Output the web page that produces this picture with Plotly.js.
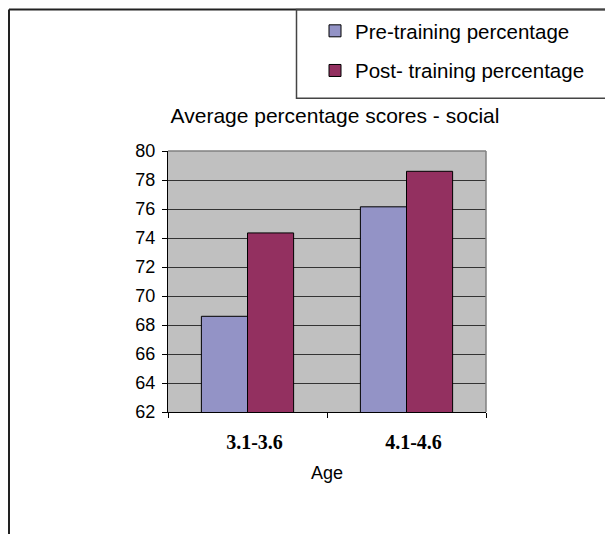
<!DOCTYPE html>
<html>
<head>
<meta charset="utf-8">
<script src="https://cdn.plot.ly/plotly-3.0.1.min.js"></script>
<style>html,body{margin:0;padding:0;background:#fff;}#chart{width:605px;height:534px;}</style>
</head>
<body>
<div id="chart"></div>
<script>
const categories = ["3.1-3.6", "4.1-4.6"];
const preTraining = [68.6, 76.15];
const postTraining = [74.35, 78.6];
const seriesNames = ["Pre-training percentage", "Post- training percentage"];
const yTicks = [62, 64, 66, 68, 70, 72, 74, 76, 78, 80];

const L = 168, R = 486, T = 150, B = 412;
const px = v => (v - L) / (R - L);
const py = v => (B - v) / (B - T);

const traces = [
  {type: "bar", x: categories, y: preTraining, name: seriesNames[0], legendgroup: "a",
   marker: {color: "#9393c6", line: {color: "#000", width: 1}}},
  {type: "bar", x: categories, y: postTraining, name: seriesNames[1], legendgroup: "b",
   marker: {color: "#933060", line: {color: "#000", width: 1}}}
];

const layout = {
  width: 605, height: 534,
  margin: {l: L, r: 605 - R, t: T, b: 534 - B},
  paper_bgcolor: "#ffffff",
  plot_bgcolor: "#c0c0c0",
  barmode: "group",
  bargap: 0.42,
  bargroupgap: 0,
  font: {family: "Liberation Sans, Arial, sans-serif", color: "#000"},
  title: {text: "Average percentage scores - social", font: {size: 21, color: "#000"},
          x: 335 / 605, xref: "container", xanchor: "center", y: 1 - 116 / 534, yref: "container", yanchor: "middle"},
  xaxis: {type: "category", tickson: "boundaries", ticks: "outside", ticklen: 5, tickcolor: "#000",
          showline: true, linecolor: "#000", linewidth: 1, showgrid: false, ticklabelstandoff: 12, ticklabelshift: 7,
          tickfont: {family: "Liberation Serif, Times New Roman, serif", size: 20, color: "#000", weight: "bold"},
          title: {text: "Age", font: {size: 18, color: "#000"}, standoff: 14}},
  yaxis: {range: [62, 80], tickvals: yTicks, ticks: "outside", ticklen: 5, tickcolor: "#000",
          showline: true, linecolor: "#000", linewidth: 1, showgrid: true, gridcolor: "#333", gridwidth: 1,
          ticklabelstandoff: 3, tickfont: {size: 18, color: "#000"}, zeroline: false},
  showlegend: true,
  legend: {x: px(315), y: py(11), xanchor: "left", yanchor: "top", font: {size: 20.5, color: "#000"},
           bgcolor: "rgba(0,0,0,0)", borderwidth: 0, traceorder: "grouped", tracegroupgap: 10},
  shapes: [
    {type: "line", xref: "paper", yref: "paper", x0: px(9), x1: px(9), y0: py(8), y1: py(540), line: {color: "#222", width: 2}},
    {type: "line", xref: "paper", yref: "paper", x0: px(9), x1: px(610), y0: py(8), y1: py(8), line: {color: "#222", width: 2}},
    {type: "rect", xref: "paper", yref: "paper", x0: px(296.5), x1: px(615), y0: py(97), y1: py(8), line: {color: "#444", width: 1.5}},
    {type: "line", xref: "paper", yref: "paper", x0: 0, x1: 1, y0: 1, y1: 1, line: {color: "#808080", width: 1.5}},
    {type: "line", xref: "paper", yref: "paper", x0: 1, x1: 1, y0: 0, y1: 1, line: {color: "#808080", width: 1.5}}
  ]
};

Plotly.newPlot("chart", traces, layout, {displayModeBar: false, staticPlot: true});
</script>
</body>
</html>
